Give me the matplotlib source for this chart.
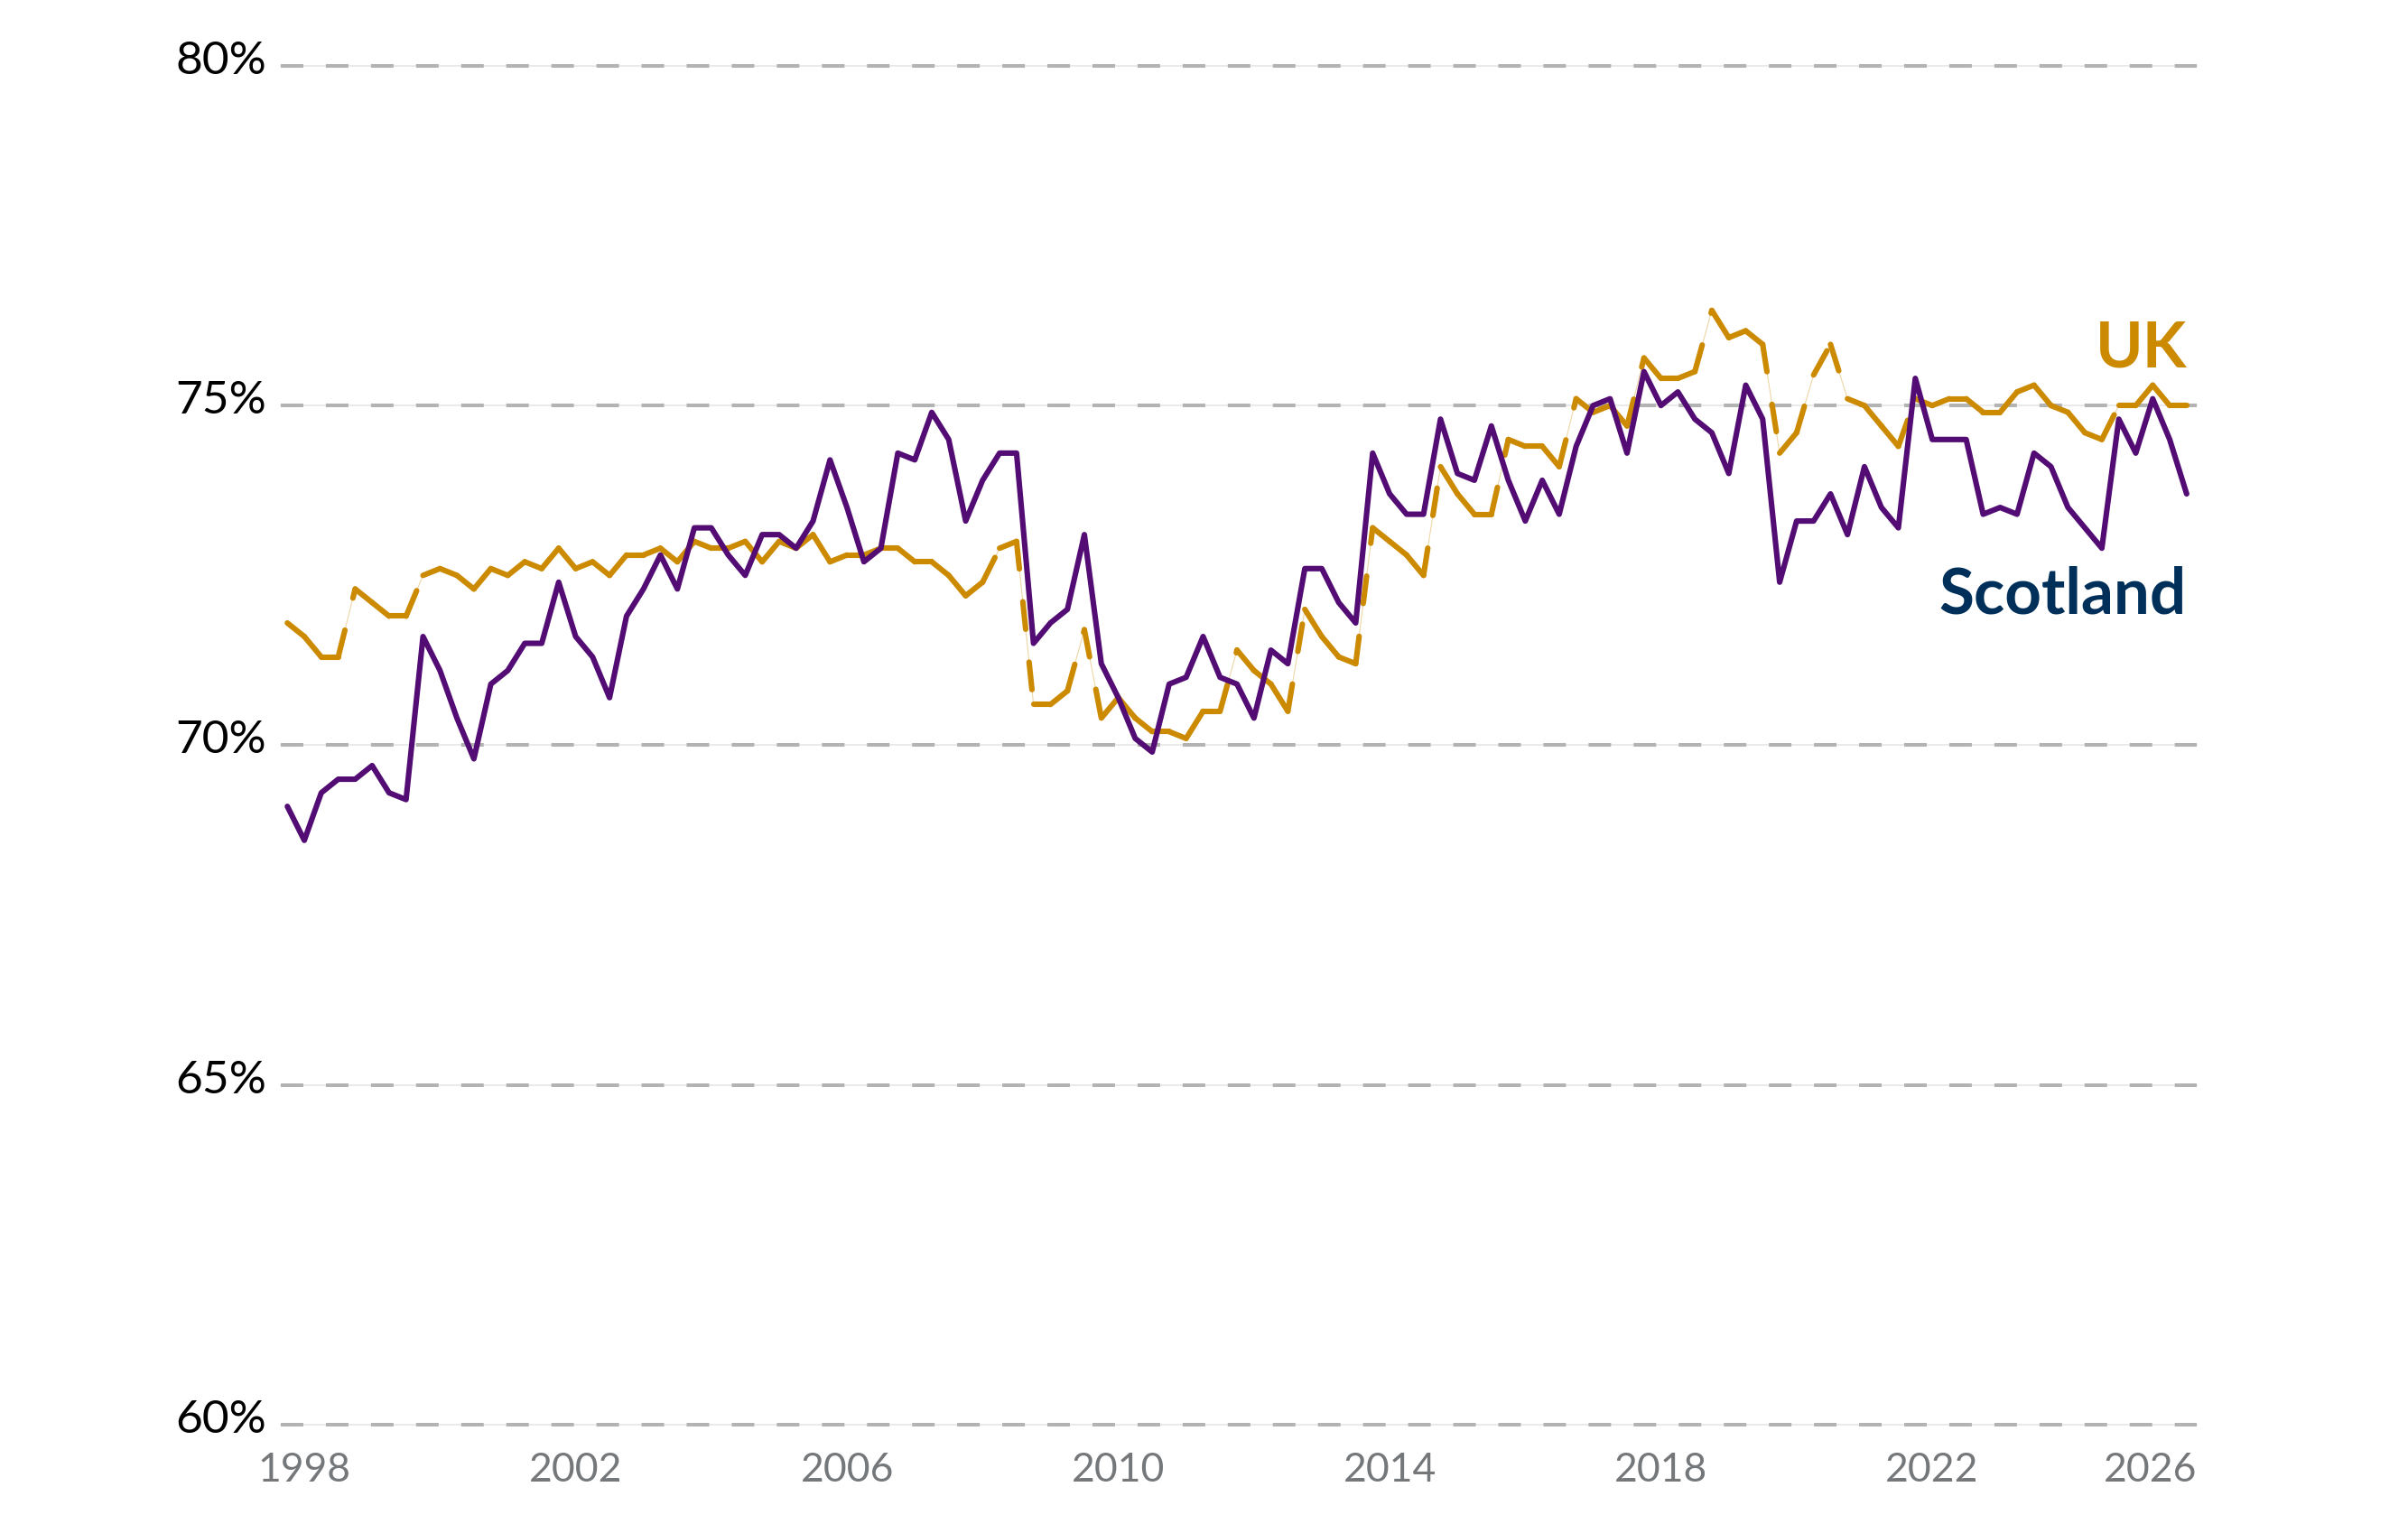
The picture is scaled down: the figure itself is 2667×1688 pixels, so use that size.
import numpy as np
import pandas as pd
import matplotlib
matplotlib.use("Agg")
import matplotlib.pyplot as plt
from matplotlib.collections import LineCollection
from matplotlib.transforms import ScaledTranslation

# Quarterly employment rate (%), Scotland vs UK
quarters = pd.period_range("1997Q4", periods=113, freq="Q")

scotland = [
    69.1, 68.6, 69.3, 69.5, 69.5, 69.7, 69.3, 69.2, 71.6, 71.1,
    70.4, 69.8, 70.9, 71.1, 71.5, 71.5, 72.4, 71.6, 71.3, 70.7,
    71.9, 72.3, 72.8, 72.3, 73.2, 73.2, 72.8, 72.5, 73.1, 73.1,
    72.9, 73.3, 74.2, 73.5, 72.7, 72.9, 74.3, 74.2, 74.9, 74.5,
    73.3, 73.9, 74.3, 74.3, 71.5, 71.8, 72.0, 73.1, 71.2, 70.7,
    70.1, 69.9, 70.9, 71.0, 71.6, 71.0, 70.9, 70.4, 71.4, 71.2,
    72.6, 72.6, 72.1, 71.8, 74.3, 73.7, 73.4, 73.4, 74.8, 74.0,
    73.9, 74.7, 73.9, 73.3, 73.9, 73.4, 74.4, 75.0, 75.1, 74.3,
    75.5, 75.0, 75.2, 74.8, 74.6, 74.0, 75.3, 74.8, 72.4, 73.3,
    73.3, 73.7, 73.1, 74.1, 73.5, 73.2, 75.4, 74.5, 74.5, 74.5,
    73.4, 73.5, 73.4, 74.3, 74.1, 73.5, 73.2, 72.9, 74.8, 74.3,
    75.1, 74.5, 73.7,
]

uk = [
    71.8, 71.6, 71.3, 71.3, 72.3, 72.1, 71.9, 71.9, 72.5, 72.6,
    72.5, 72.3, 72.6, 72.5, 72.7, 72.6, 72.9, 72.6, 72.7, 72.5,
    72.8, 72.8, 72.9, 72.7, 73.0, 72.9, 72.9, 73.0, 72.7, 73.0,
    72.9, 73.1, 72.7, 72.8, 72.8, 72.9, 72.9, 72.7, 72.7, 72.5,
    72.2, 72.4, 72.9, 73.0, 70.6, 70.6, 70.8, 71.7, 70.4, 70.7,
    70.4, 70.2, 70.2, 70.1, 70.5, 70.5, 71.4, 71.1, 70.9, 70.5,
    72.0, 71.6, 71.3, 71.2, 73.2, 73.0, 72.8, 72.5, 74.1, 73.7,
    73.4, 73.4, 74.5, 74.4, 74.4, 74.1, 75.1, 74.9, 75.0, 74.7,
    75.7, 75.4, 75.4, 75.5, 76.4, 76.0, 76.1, 75.9, 74.3, 74.6,
    75.45, 75.9, 75.1, 75.0, 74.7, 74.4, 75.1, 75.0, 75.1, 75.1,
    74.9, 74.9, 75.2, 75.3, 75.0, 74.9, 74.6, 74.5, 75.0, 75.0,
    75.3, 75.0, 75.0,
]

year_ticks = [1998, 2002, 2006, 2010, 2014, 2018, 2022, 2026]
pct_ticks = [60, 65, 70, 75, 80]

UK_COL = "#CC8A00"
SCOT_COL = "#520C73"
SCOT_TXT = "#00305A"

plt.rcParams["font.family"] = ["Lato", "DejaVu Sans"]

x = quarters.year + (quarters.quarter - 1) / 4.0
x = np.asarray(x, dtype=float)
scot = np.array(scotland)
ukv = np.array(uk)

fig = plt.figure(figsize=(26.67, 16.88), dpi=100)
ax = fig.add_axes([0.1166, 0.0652, 0.7957, 0.8916])
ax.set_xlim(1997.653, 2025.9)
ax.set_ylim(60, 80)
for s in ax.spines.values():
    s.set_visible(False)
ax.set_xticks([])
ax.set_yticks([])

# gridlines: faint solid line with grey dashes on top
for v in pct_ticks:
    ax.axhline(v, color="#e6e6e6", lw=1.2, zorder=1, clip_on=False)
    ax.axhline(v, color="#b3b3b3", lw=2.9, dashes=(6.2, 6.2), zorder=1.1,
               clip_on=False)

# UK line: faint thin path, thick solid on gentle moves, dashed on steep ones
ax.plot(x, ukv, color=UK_COL, lw=0.8, alpha=0.35, zorder=2)
segs = [[(x[i], ukv[i]), (x[i + 1], ukv[i + 1])] for i in range(len(x) - 1)]
styles = [(0, (5, 6)) if abs(ukv[i + 1] - ukv[i]) >= 0.45 else "solid"
          for i in range(len(x) - 1)]
lc = LineCollection(segs, colors=UK_COL, linewidths=4.4, linestyles=styles,
                    zorder=3)
lc.set_capstyle("round")
lc.set_joinstyle("round")
ax.add_collection(lc)

ax.plot(x, scot, color=SCOT_COL, lw=4.4, zorder=4,
        solid_capstyle="round", solid_joinstyle="round")

# series labels at the right end
ax.text(x[-1], 75.57, "UK", color=UK_COL, fontsize=51, fontweight="bold",
        ha="right", va="baseline", zorder=5)
ax.text(x[-1], 71.94, "Scotland", color=SCOT_TXT, fontsize=51,
        fontweight="bold", ha="right", va="baseline", zorder=5)

# y labels, baseline a little below the gridline
down = ScaledTranslation(-0.16, -0.09, fig.dpi_scale_trans)
ytrans = ax.get_yaxis_transform() + down
for v in pct_ticks:
    ax.text(0, v, f"{v}%", transform=ytrans, ha="right", va="baseline",
            fontsize=37, color="black", clip_on=False)

# x labels, the last one kept inside the plot edge
xlo, xhi = ax.get_xlim()
xtrans = ax.get_xaxis_transform() + ScaledTranslation(0, -0.30, fig.dpi_scale_trans)
for yr in year_ticks:
    pos, ha = yr, "center"
    if yr > xhi:
        pos, ha = xhi, "right"
    ax.text(pos, 0, str(yr), transform=xtrans, ha=ha, va="top",
            fontsize=32, color="#75787b", clip_on=False)

fig.savefig("out.png", dpi=100, facecolor="white")
